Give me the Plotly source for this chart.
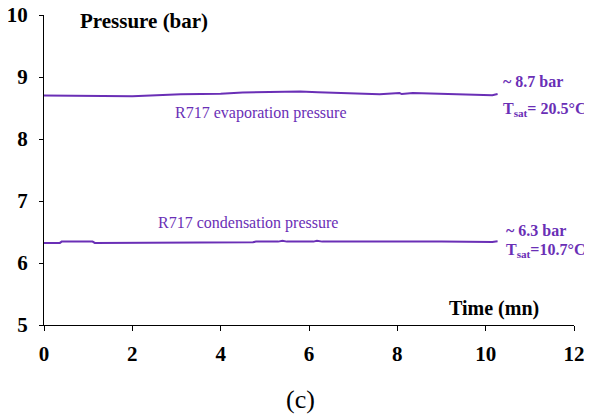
import plotly.graph_objects as go

# Data
evap_t = [0.0, 0.5, 1.0, 2.0, 3.1, 4.0, 4.5, 5.0, 5.8, 6.2, 6.7, 7.6, 8.05, 8.1, 8.35, 9.0, 10.15, 10.27]
evap_p = [8.70, 8.70, 8.69, 8.69, 8.72, 8.73, 8.75, 8.755, 8.765, 8.755, 8.745, 8.72, 8.74, 8.725, 8.74, 8.73, 8.705, 8.725]
cond_t = [0.0, 0.36, 0.4, 1.1, 1.15, 3.37, 3.42, 4.1, 4.14, 4.2, 4.73, 4.8, 5.3, 5.4, 5.5, 6.1, 6.18, 6.3, 6.85, 6.95, 8.0, 9.0, 10.15, 10.27]
cond_p = [6.324, 6.324, 6.345, 6.345, 6.324, 6.324, 6.335, 6.335, 6.325, 6.335, 6.335, 6.345, 6.345, 6.36, 6.345, 6.345, 6.36, 6.345, 6.345, 6.355, 6.345, 6.345, 6.34, 6.35]

x_ticks = [0, 2, 4, 6, 8, 10, 12]
y_ticks = [5, 6, 7, 8, 9, 10]

purple = "#6a2fb6"
serif = "Liberation Serif"

fig = go.Figure()
fig.add_trace(go.Scatter(x=evap_t, y=evap_p, mode="lines",
                         line=dict(color=purple, width=2), showlegend=False))
fig.add_trace(go.Scatter(x=cond_t, y=cond_p, mode="lines",
                         line=dict(color=purple, width=2), showlegend=False))

# page body adds an 8px offset; figure is sized to fit the window
fig.update_layout(
    width=584, height=407,
    margin=dict(l=36, r=18, t=7, b=90),
    plot_bgcolor="white", paper_bgcolor="white",
    font=dict(family=serif, color="black"),
    xaxis=dict(range=[0, 12], tickvals=x_ticks, ticktext=[f"<b>{v}</b>" for v in x_ticks],
               showgrid=False, zeroline=False, showline=True, linecolor="black", linewidth=1,
               ticks="outside", ticklen=5, tickcolor="black", tickfont=dict(size=21, family=serif),
               ticklabelstandoff=5, automargin=False, ticklabeloverflow="allow"),
    yaxis=dict(range=[5, 10], tickvals=y_ticks, ticktext=[f"<b>{v}</b>" for v in y_ticks],
               showgrid=False, zeroline=False, showline=True, linecolor="black", linewidth=1,
               ticks="outside", ticklen=4, tickcolor="black", tickfont=dict(size=21, family=serif),
               ticklabelstandoff=7, automargin=False, ticklabeloverflow="allow"),
)

def px(xp, yp):
    return (xp - 44) / (574 - 44), 1 - (yp - 15) / (325 - 15)

def pann(xp, yp, text, size=15, color="black", xanchor="left"):
    x, y = px(xp, yp)
    fig.add_annotation(x=x, y=y, xref="paper", yref="paper", text=text, showarrow=False,
                       font=dict(family=serif, size=size, color=color), xanchor=xanchor,
                       yanchor="middle")

pann(78, 21, "<b>Pressure (bar)</b>", size=21)
pann(447, 308, "<b>Time (mn)</b>", size=20)
pann(300, 399, "(c)", size=26, xanchor="center")
pann(261, 113, "R717 evaporation pressure", size=16, color=purple, xanchor="center")
pann(248, 223, "R717 condensation pressure", size=16, color=purple, xanchor="center")
pann(501, 82, "<b>~ 8.7 bar</b>", size=16, color=purple)
pann(501, 109, "<b>T<sub>sat</sub>= 20.5°C</b>", size=16, color=purple)
pann(504, 230, "<b>~ 6.3 bar</b>", size=16, color=purple)
pann(504, 251, "<b>T<sub>sat</sub>=10.7°C</b>", size=16, color=purple)

fig.write_html("out.html")
